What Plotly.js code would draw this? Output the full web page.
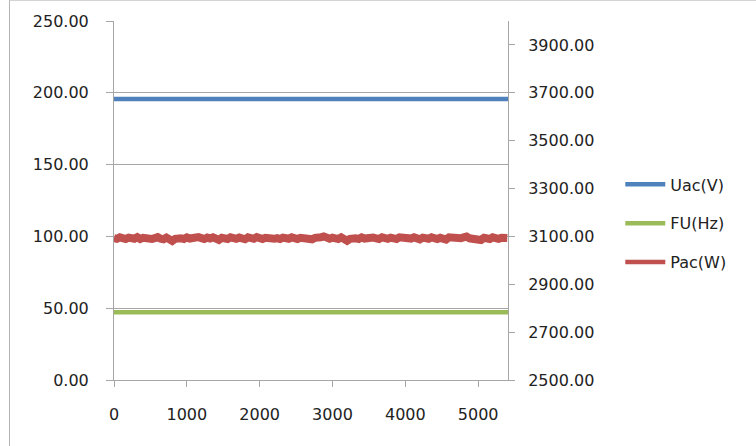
<!DOCTYPE html>
<html>
<head>
<meta charset="utf-8">
<script src="https://cdn.plot.ly/plotly-3.0.1.min.js"></script>
<style>
  html, body { margin: 0; padding: 0; background: #fff; }
  #wrap { position: relative; width: 756px; height: 446px; overflow: hidden; }
  #chart { width: 756px; height: 446px; }
  #frame { position: absolute; left: 9px; top: 0px; width: 800px; height: 500px;
           border-left: 1px solid #b4b4b4; border-top: 1px solid #d4d4d4; pointer-events: none; }
</style>
</head>
<body>
<div id="wrap">
  <div id="chart"></div>
  <div id="frame"></div>
</div>
<script>
// ---- data ----
const seriesNames = ["Uac(V)", "FU(Hz)", "Pac(W)"];
const uacX = [0, 5410];
const uacY = [195.6, 195.6];
const fuX = [0, 5410];
const fuY = [47.1, 47.1];
const pacStep = 40; // sample spacing of the Pac readings
const pacY = [
  3093,3090,3096,3092,3089,3095,3092,3090,3097,3089,
  3094,3091,3096,3089,3093,3097,3090,3088,3095,3092,
  3081,3090,3095,3092,3089,3096,3091,3094,3090,3097,
  3093,3089,3095,3091,3096,3090,3085,3094,3092,3089,
  3096,3092,3090,3095,3091,3088,3096,3093,3090,3097,
  3092,3089,3094,3091,3096,3090,3093,3089,3095,3092,
  3090,3096,3092,3089,3094,3091,3095,3090,3088,3094,
  3092,3096,3100,3093,3090,3095,3091,3089,3096,3092,
  3082,3090,3094,3092,3089,3096,3091,3094,3090,3095,
  3092,3089,3096,3091,3090,3095,3092,3089,3096,3093,
  3089,3094,3091,3096,3090,3088,3095,3092,3090,3096,
  3092,3089,3094,3091,3087,3096,3093,3090,3095,3092,
  3096,3099,3092,3090,3084,3090,3085,3094,3091,3089,
  3096,3092,3090,3094,3091,3093
];
const pacX = pacY.map((_, i) => i * pacStep);
const colors = ["#4f81bd", "#9bbb59", "#c0504d"];

const font = { family: "DejaVu Sans", size: 16, color: "#222222" };
const gridColor = "#a6a6a6";

const traces = [
  { x: uacX, y: uacY, name: seriesNames[0], type: "scatter", mode: "lines",
    line: { color: colors[0], width: 4.5 }, legendgroup: "a", yaxis: "y" },
  { x: fuX, y: fuY, name: seriesNames[1], type: "scatter", mode: "lines",
    line: { color: colors[1], width: 4.5 }, legendgroup: "b", yaxis: "y" },
  { x: pacX, y: pacY, name: seriesNames[2], type: "scatter", mode: "lines",
    line: { color: colors[2], width: 8 }, legendgroup: "c", yaxis: "y2", showlegend: false },
  // legend entry for Pac with the normal line thickness (no data of its own)
  { x: [null], y: [null], name: seriesNames[2], type: "scatter", mode: "lines",
    line: { color: colors[2], width: 4.5 }, legendgroup: "c", yaxis: "y2", showlegend: true }
];

const layout = {
  width: 756, height: 446,
  margin: { l: 114, r: 248, t: 21, b: 66 },
  paper_bgcolor: "#ffffff", plot_bgcolor: "#ffffff",
  font: font,
  showlegend: true,
  legend: { x: 1.285, xanchor: "left", y: 0.592, yanchor: "top",
            font: font, tracegroupgap: 15, itemwidth: 40, bgcolor: "rgba(0,0,0,0)" },
  xaxis: {
    range: [0, 5410], tick0: 0, dtick: 1000, showgrid: false, zeroline: false,
    showline: true, linecolor: gridColor, linewidth: 1,
    ticks: "outside", ticklen: 6, tickcolor: gridColor, ticklabelstandoff: 14,
    tickfont: font
  },
  yaxis: {
    range: [0, 250], tick0: 0, dtick: 50, tickformat: ".2f",
    showgrid: true, gridcolor: gridColor, gridwidth: 1, zeroline: false,
    showline: true, linecolor: gridColor, linewidth: 1,
    ticks: "outside", ticklen: 7, tickcolor: gridColor, ticklabelstandoff: 14,
    tickfont: font
  },
  yaxis2: {
    range: [2500, 4000], tick0: 2500, dtick: 200, tickformat: ".2f",
    overlaying: "y", side: "right", showgrid: false, zeroline: false,
    showline: true, linecolor: gridColor, linewidth: 1,
    ticks: "outside", ticklen: 6, tickcolor: gridColor, ticklabelstandoff: 10,
    tickfont: font
  }
};

Plotly.newPlot("chart", traces, layout, { staticPlot: true, displayModeBar: false });
</script>
</body>
</html>
